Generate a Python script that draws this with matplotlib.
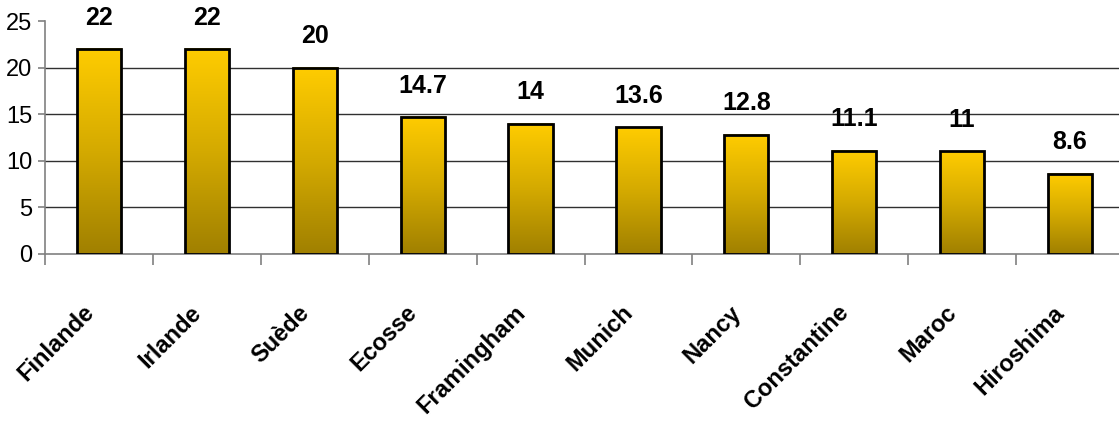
import numpy as np
import matplotlib
matplotlib.use("Agg")
import matplotlib.pyplot as plt
from matplotlib.colors import LinearSegmentedColormap
from matplotlib.transforms import blended_transform_factory, ScaledTranslation

categories = ["Finlande", "Irlande", "Suède", "Ecosse", "Framingham",
              "Munich", "Nancy", "Constantine", "Maroc", "Hiroshima"]
values = [22, 22, 20, 14.7, 14, 13.6, 12.8, 11.1, 11, 8.6]
value_labels = ["22", "22", "20", "14.7", "14", "13.6", "12.8", "11.1", "11", "8.6"]
yticks = [0, 5, 10, 15, 20, 25]

narrow = ["Liberation Sans Narrow", "Liberation Sans", "DejaVu Sans"]
regular = ["Liberation Sans", "DejaVu Sans"]

W, H, DPI = 1119, 421, 100
fig = plt.figure(figsize=(W / DPI, H / DPI), dpi=DPI)
ax = fig.add_axes([45 / W, 167 / H, 1079 / W, 233 / H])

# gold-to-olive vertical gradient used to fill each bar
cmap = LinearSegmentedColormap.from_list("gold", ["#A08000", "#D4AA00", "#FFCC00"])
grad = np.linspace(0, 1, 256).reshape(-1, 1)

bar_w = 0.41
x = np.arange(len(categories))
for xi, v in zip(x, values):
    ax.imshow(grad, cmap=cmap, origin="lower", aspect="auto",
              extent=[xi - bar_w / 2, xi + bar_w / 2, 0, v], zorder=2,
              interpolation="bilinear")
bars = ax.bar(x, values, width=bar_w, facecolor="none", edgecolor="black",
              linewidth=2.0, zorder=3)

# value labels above the bars
for xi, v, lab in zip(x, values, value_labels):
    ax.annotate(lab, (xi, v), xytext=(0, 14), textcoords="offset points",
                ha="center", va="bottom", fontsize=18, fontweight="bold",
                family=narrow, zorder=4)

ax.set_xlim(-0.5, len(categories) - 0.5)
ax.set_ylim(0, 25)

# horizontal gridlines (none at the top value)
for g in yticks[1:-1]:
    ax.axhline(g, color="#303030", linewidth=1.0, zorder=1)

for side in ["top", "right"]:
    ax.spines[side].set_visible(False)
ax.spines["left"].set_color("#808080")
ax.spines["bottom"].set_color("#808080")
ax.spines["left"].set_linewidth(1.2)
ax.spines["bottom"].set_linewidth(1.2)

ax.set_yticks(yticks)
ax.set_yticklabels([str(t) for t in yticks], fontsize=17, family=narrow)
ax.tick_params(axis="y", length=5, width=1.2, color="#808080", pad=4)

# category separators as x ticks, labels drawn separately
ax.set_xticks(np.arange(len(categories) + 1) - 0.5)
ax.set_xticklabels([])
ax.tick_params(axis="x", length=8, width=1.2, color="#808080")

trans = blended_transform_factory(ax.transData, ax.transAxes)
shift = ScaledTranslation(-17 / DPI, -5 / DPI, fig.dpi_scale_trans)
for xi, name in zip(x, categories):
    ax.text(xi, -42 / 233, name, transform=trans + shift, rotation=45,
            rotation_mode="anchor", ha="right", va="top",
            fontsize=17, fontweight="bold", family=regular)

fig.savefig("out.png", dpi=DPI)
